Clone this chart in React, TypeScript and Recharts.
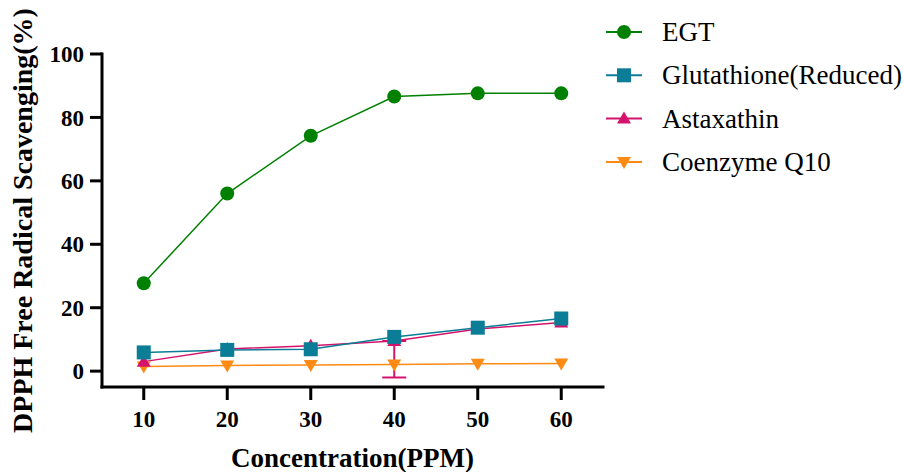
import React from "react";
import {
  LineChart,
  Line,
  XAxis,
  YAxis,
  Legend,
  ErrorBar,
  Label,
} from "recharts";

const concentrations = [10, 20, 30, 40, 50, 60];
const egt = [27.7, 56.0, 74.2, 86.6, 87.6, 87.6];
const glutathione = [5.9, 6.7, 6.9, 10.8, 13.7, 16.6];
const astaxathin = [3.0, 7.0, 8.0, 9.5, 13.3, 15.3];
// only the 40 PPM point carries a (downward) error bar
const astaxathinErr: ([number, number] | null)[] = [
  null,
  null,
  null,
  [11.5, 0],
  null,
  null,
];
const coenzymeQ10 = [1.5, 1.8, 1.9, 2.1, 2.3, 2.4];

const xTicks = [10, 20, 30, 40, 50, 60];
const yTicks = [0, 20, 40, 60, 80, 100];

type Shape = "circle" | "square" | "triangle" | "triangleDown";

const series: { key: string; name: string; color: string; shape: Shape }[] = [
  { key: "egt", name: "EGT", color: "#008000", shape: "circle" },
  { key: "glu", name: "Glutathione(Reduced)", color: "#0b7d96", shape: "square" },
  { key: "ast", name: "Astaxathin", color: "#d4136d", shape: "triangle" },
  { key: "coq", name: "Coenzyme Q10", color: "#ff8a14", shape: "triangleDown" },
];

const data = concentrations.map((c, i) => ({
  conc: c,
  egt: egt[i],
  glu: glutathione[i],
  ast: astaxathin[i],
  astErr: astaxathinErr[i],
  coq: coenzymeQ10[i],
}));

const FONT = "'Liberation Serif', 'Times New Roman', serif";

const Marker = ({ cx, cy, shape, color }: { cx: number; cy: number; shape: Shape; color: string }) => {
  if (cx == null || cy == null) return null;
  if (shape === "circle") return <circle cx={cx} cy={cy} r={7} fill={color} />;
  if (shape === "square")
    return <rect x={cx - 7} y={cy - 7} width={14} height={14} fill={color} />;
  if (shape === "triangle")
    return (
      <polygon
        points={`${cx},${cy - 7} ${cx + 7},${cy + 5} ${cx - 7},${cy + 5}`}
        fill={color}
      />
    );
  return (
    <polygon
      points={`${cx - 7},${cy - 5} ${cx + 7},${cy - 5} ${cx},${cy + 7}`}
      fill={color}
    />
  );
};

const dotFor = (shape: Shape, color: string) => (props: any) =>
  <Marker key={`${shape}-${props.index}`} cx={props.cx} cy={props.cy} shape={shape} color={color} />;

const renderLegend = () => (
  <svg width={303} height={180}>
    {series.map((s, i) => {
      const y = 24 + i * 43.3;
      return (
        <g key={s.key}>
          <line x1={6} x2={42} y1={y} y2={y} stroke={s.color} strokeWidth={2} />
          <Marker cx={24} cy={y} shape={s.shape} color={s.color} />
          <text x={62} y={y + 9} fontSize={27} fontFamily={FONT} fill="#000">
            {s.name}
          </text>
        </g>
      );
    })}
  </svg>
);

const tickStyle = { fontSize: 23, fontWeight: 700, fontFamily: FONT, fill: "#000" };
const axisLine = { stroke: "#000", strokeWidth: 3, strokeLinecap: "square" as const };
const tickLine = { stroke: "#000", strokeWidth: 3 };

export default function App() {
  return (
    <div style={{ position: "absolute", left: 0, top: 0, background: "#fff" }}>
      <LineChart
        width={903}
        height={472}
        data={data}
        margin={{ top: 54, right: 300, bottom: 0, left: 0 }}
      >
        <XAxis
          dataKey="conc"
          type="number"
          domain={[5, 65]}
          ticks={xTicks}
          height={85}
          tick={tickStyle}
          tickSize={13}
          tickMargin={11}
          axisLine={axisLine}
          tickLine={tickLine}
        >
          <Label
            value="Concentration(PPM)"
            position="insideBottom"
            offset={5}
            style={{ fontSize: 27, fontWeight: 700, fontFamily: FONT, fill: "#000" }}
          />
        </XAxis>
        <YAxis
          type="number"
          domain={[-5, 100]}
          ticks={yTicks}
          width={102}
          tick={tickStyle}
          tickSize={12}
          tickMargin={6}
          axisLine={axisLine}
          tickLine={tickLine}
        >
          <Label
            value="DPPH Free Radical Scavenging(%)"
            angle={-90}
            position="insideLeft"
            offset={22}
            style={{
              fontSize: 28,
              fontWeight: 700,
              fontFamily: FONT,
              fill: "#000",
              textAnchor: "middle",
            }}
          />
        </YAxis>
        <Legend
          layout="vertical"
          align="center"
          verticalAlign="middle"
          content={renderLegend}
          wrapperStyle={{ left: 600, top: 8, width: 303, height: 180 }}
        />
        <Line
          dataKey="coq"
          name="Coenzyme Q10"
          stroke="#ff8a14"
          strokeWidth={1.5}
          dot={dotFor("triangleDown", "#ff8a14")}
          activeDot={false}
          isAnimationActive={false}
        />
        <Line
          dataKey="ast"
          name="Astaxathin"
          stroke="#d4136d"
          strokeWidth={1.5}
          dot={dotFor("triangle", "#d4136d")}
          activeDot={false}
          isAnimationActive={false}
        >
          <ErrorBar dataKey="astErr" direction="y" width={12} stroke="#d4136d" strokeWidth={2} />
        </Line>
        <Line
          dataKey="glu"
          name="Glutathione(Reduced)"
          stroke="#0b7d96"
          strokeWidth={1.5}
          dot={dotFor("square", "#0b7d96")}
          activeDot={false}
          isAnimationActive={false}
        />
        <Line
          dataKey="egt"
          name="EGT"
          stroke="#008000"
          strokeWidth={1.5}
          dot={dotFor("circle", "#008000")}
          activeDot={false}
          isAnimationActive={false}
        />
      </LineChart>
    </div>
  );
}
